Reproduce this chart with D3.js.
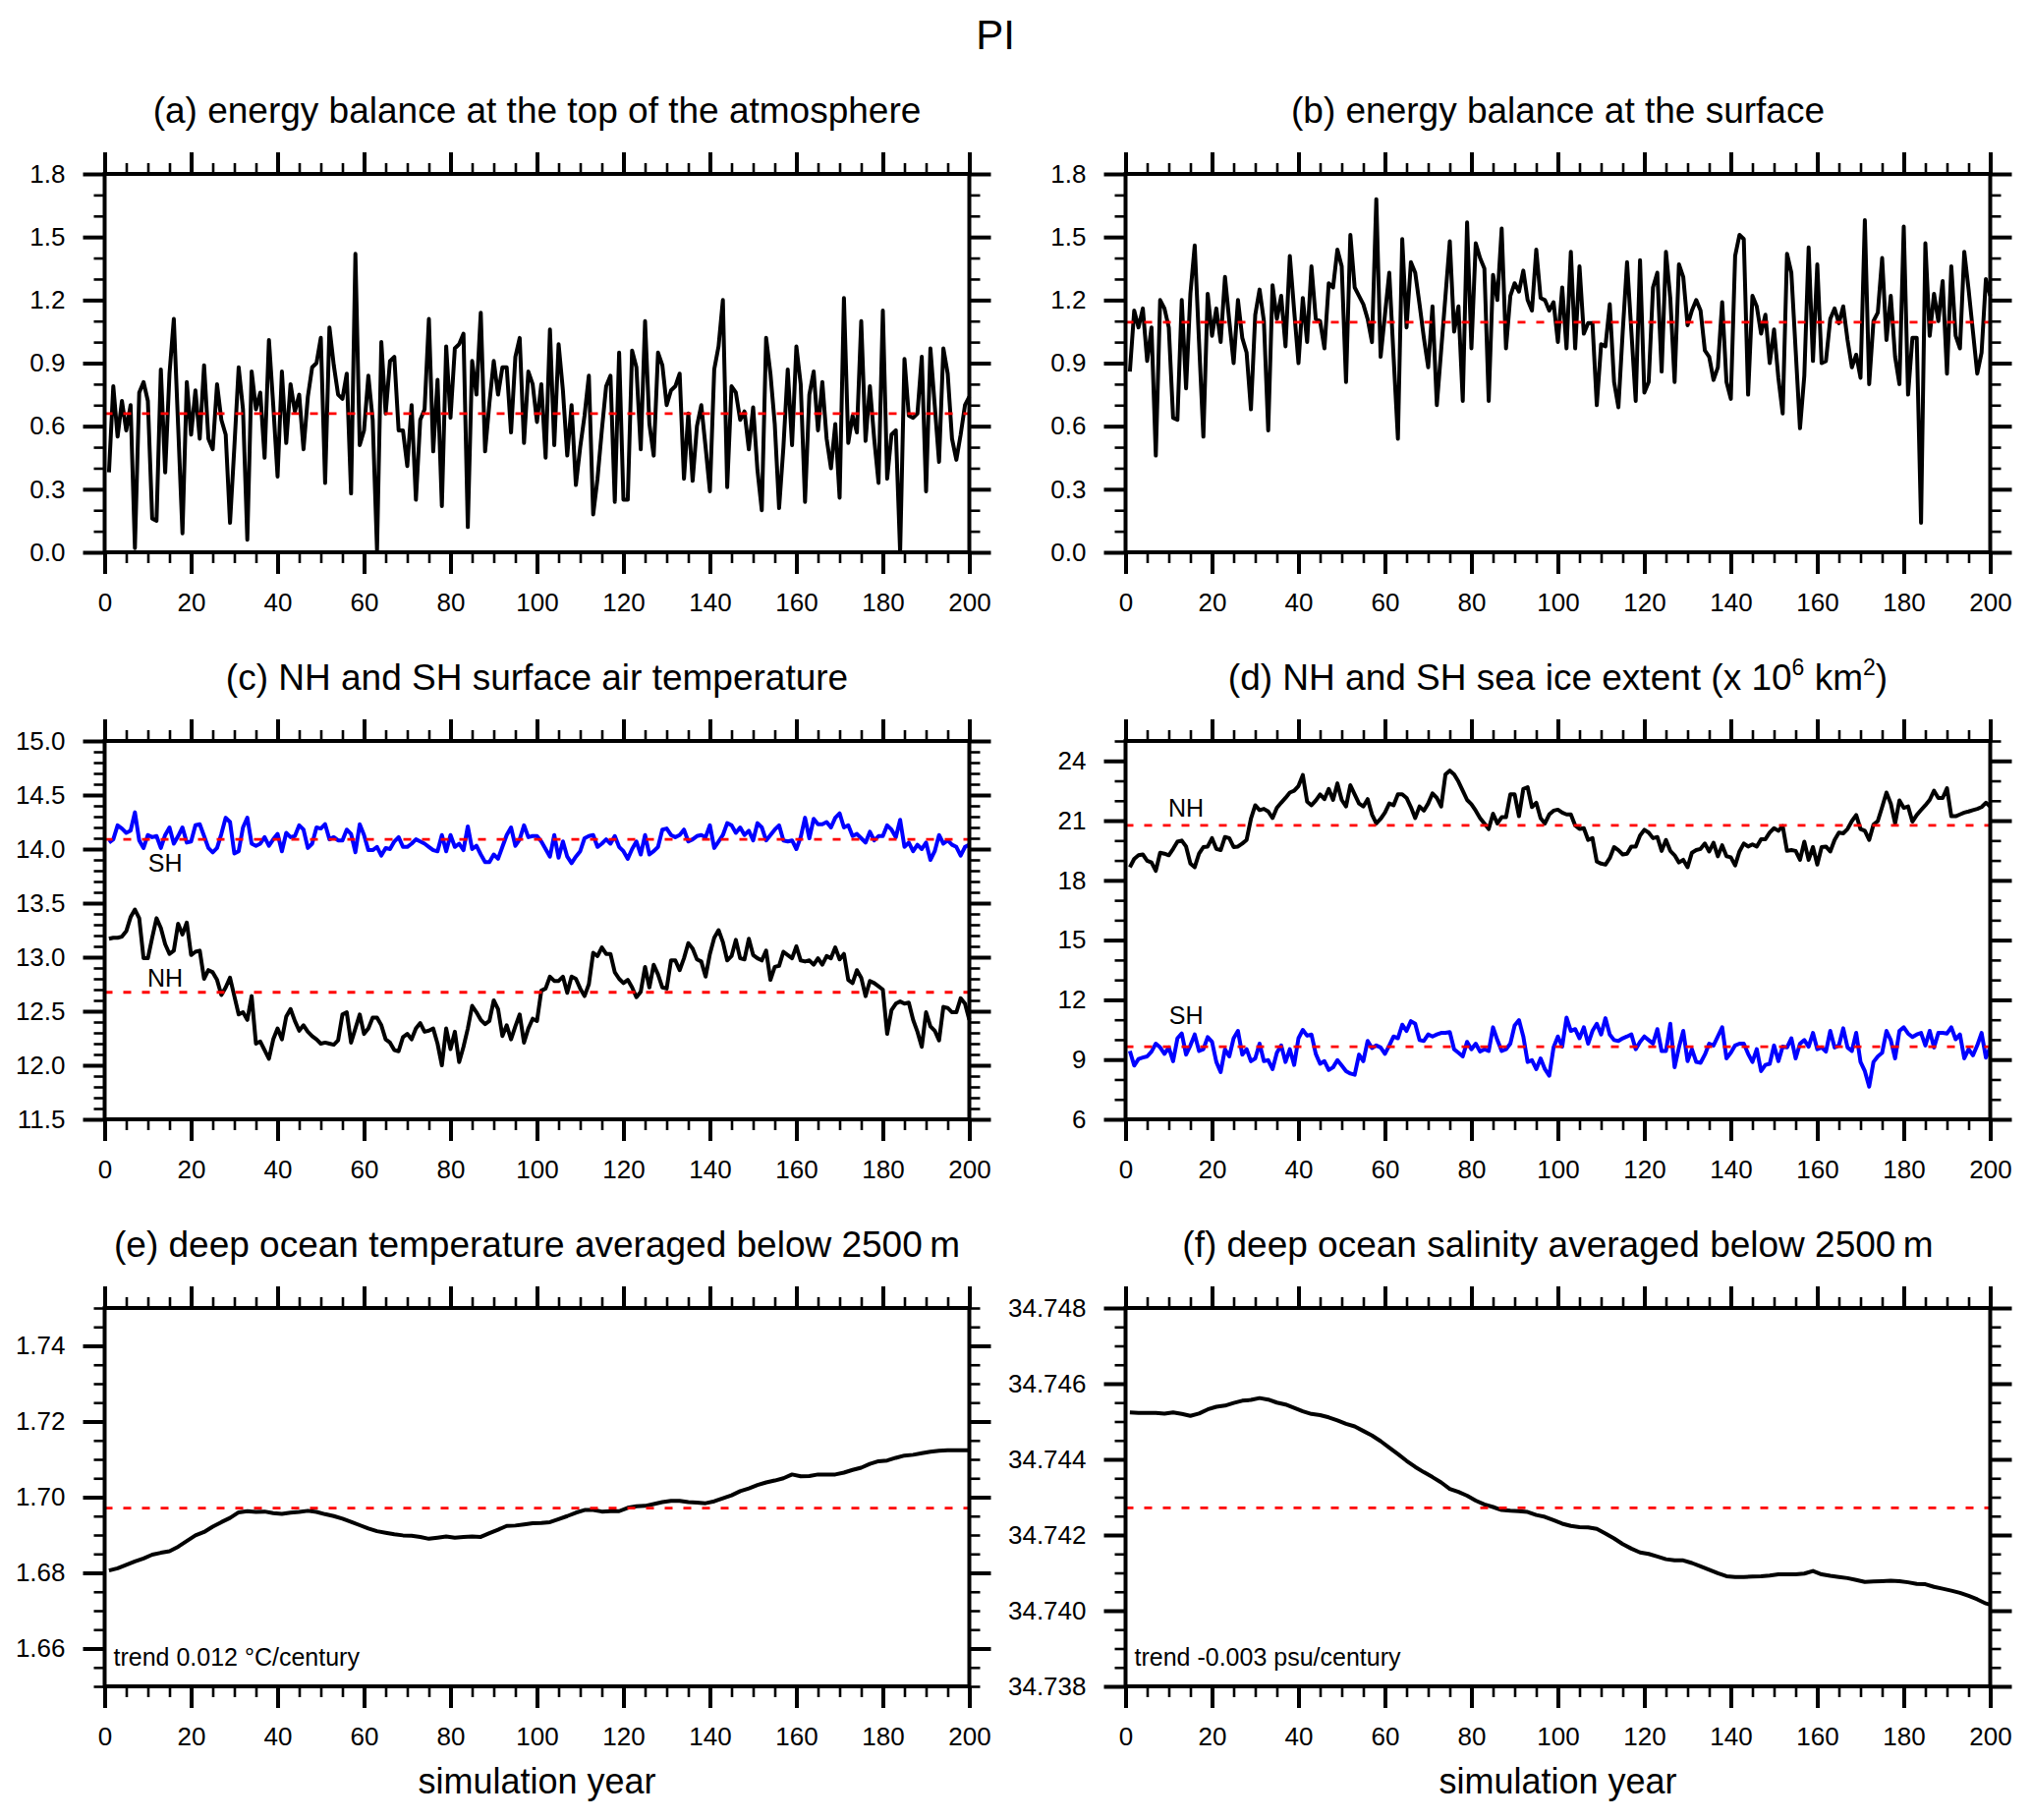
<!DOCTYPE html>
<html>
<head>
<meta charset="utf-8">
<script src="https://cdn.jsdelivr.net/npm/d3@7"></script>
<style>
  body { margin: 0; background: #fff; }
  text { font-family: "Liberation Sans", Arial, Helvetica, sans-serif; }
</style>
</head>
<body>
<div id="container"></div>
<script>
// ---- data ----
const years = d3.range(1, 201);
const yearsSmooth = d3.range(1, 200, 2).concat([200]);

const toaBalance = [
  0.38, 0.79, 0.55, 0.72, 0.58, 0.70, 0.02, 0.76, 0.81, 0.72,
  0.16, 0.15, 0.87, 0.38, 0.85, 1.11, 0.60, 0.09, 0.81, 0.56,
  0.77, 0.54, 0.89, 0.54, 0.49, 0.80, 0.63, 0.56, 0.14, 0.50,
  0.88, 0.68, 0.06, 0.86, 0.68, 0.76, 0.45, 1.01, 0.70, 0.36,
  0.86, 0.52, 0.80, 0.67, 0.75, 0.49, 0.74, 0.88, 0.90, 1.02,
  0.33, 1.07, 0.89, 0.75, 0.73, 0.85, 0.28, 1.42, 0.51, 0.58,
  0.84, 0.63, 0.01, 1.00, 0.66, 0.91, 0.93, 0.58, 0.58, 0.41,
  0.70, 0.25, 0.63, 0.68, 1.11, 0.48, 0.82, 0.22, 0.98, 0.64,
  0.97, 0.99, 1.04, 0.12, 0.91, 0.75, 1.14, 0.48, 0.71, 0.91,
  0.75, 0.88, 0.88, 0.57, 0.93, 1.02, 0.52, 0.86, 0.80, 0.62,
  0.80, 0.45, 1.06, 0.51, 0.99, 0.77, 0.46, 0.70, 0.32, 0.50,
  0.65, 0.84, 0.18, 0.35, 0.58, 0.79, 0.84, 0.24, 0.95, 0.25,
  0.25, 0.96, 0.88, 0.49, 1.10, 0.61, 0.46, 0.95, 0.89, 0.70,
  0.77, 0.79, 0.85, 0.35, 0.66, 0.34, 0.60, 0.70, 0.50, 0.29,
  0.87, 0.98, 1.20, 0.31, 0.79, 0.76, 0.63, 0.67, 0.49, 0.69,
  0.39, 0.20, 1.02, 0.85, 0.61, 0.21, 0.50, 0.87, 0.51, 0.98,
  0.80, 0.24, 0.75, 0.86, 0.58, 0.81, 0.54, 0.40, 0.61, 0.26,
  1.21, 0.52, 0.65, 0.57, 1.10, 0.53, 0.79, 0.54, 0.33, 1.15,
  0.35, 0.56, 0.58, 0.00, 0.92, 0.65, 0.64, 0.66, 0.93, 0.29,
  0.97, 0.70, 0.43, 0.97, 0.85, 0.54, 0.44, 0.56, 0.70, 0.74
];

const surfBalance = [
  0.86, 1.15, 1.07, 1.16, 0.91, 1.07, 0.46, 1.20, 1.16, 1.07,
  0.64, 0.63, 1.20, 0.78, 1.23, 1.46, 1.00, 0.55, 1.23, 1.03,
  1.16, 1.00, 1.31, 1.10, 0.90, 1.20, 1.02, 0.95, 0.68, 1.13,
  1.25, 1.10, 0.58, 1.27, 1.11, 1.22, 0.98, 1.41, 1.15, 0.90,
  1.21, 1.00, 1.36, 1.11, 1.10, 0.97, 1.28, 1.26, 1.44, 1.36,
  0.81, 1.51, 1.26, 1.22, 1.18, 1.11, 1.00, 1.68, 0.93, 1.13,
  1.33, 0.93, 0.54, 1.49, 1.07, 1.38, 1.33, 1.18, 1.02, 0.88,
  1.17, 0.70, 0.96, 1.22, 1.48, 1.05, 1.17, 0.72, 1.57, 0.97,
  1.47, 1.40, 1.35, 0.72, 1.32, 1.20, 1.54, 0.97, 1.22, 1.28,
  1.24, 1.34, 1.20, 1.15, 1.44, 1.21, 1.20, 1.15, 1.19, 1.00,
  1.26, 0.97, 1.43, 0.97, 1.36, 1.04, 1.09, 1.09, 0.70, 0.99,
  0.98, 1.18, 0.81, 0.69, 1.05, 1.38, 1.05, 0.72, 1.39, 0.76,
  0.81, 1.26, 1.33, 0.86, 1.43, 1.21, 0.81, 1.37, 1.31, 1.08,
  1.15, 1.20, 1.15, 0.96, 0.93, 0.82, 0.88, 1.19, 0.81, 0.73,
  1.41, 1.51, 1.49, 0.75, 1.22, 1.17, 1.04, 1.13, 0.90, 1.06,
  0.83, 0.66, 1.42, 1.33, 0.96, 0.59, 0.84, 1.45, 0.91, 1.37,
  0.90, 0.91, 1.11, 1.16, 1.09, 1.17, 1.01, 0.88, 0.94, 0.83,
  1.58, 0.80, 1.10, 1.14, 1.40, 1.01, 1.22, 0.93, 0.80, 1.55,
  0.75, 1.02, 1.02, 0.14, 1.47, 1.03, 1.23, 1.10, 1.29, 0.85,
  1.36, 1.03, 0.97, 1.43, 1.25, 1.05, 0.85, 0.95, 1.30, 1.22
];

const satSH = [
  14.06, 14.09, 14.22, 14.19, 14.15, 14.17, 14.34, 14.08, 14.01, 14.13,
  14.11, 14.12, 14.01, 14.13, 14.20, 14.05, 14.12, 14.20, 14.06, 14.07,
  14.22, 14.23, 14.12, 14.01, 13.97, 14.01, 14.14, 14.29, 14.25, 13.96,
  13.98, 14.20, 14.29, 14.05, 14.03, 14.05, 14.11, 14.03, 14.09, 14.14,
  13.98, 14.15, 14.11, 14.12, 14.22, 14.18, 14.01, 14.05, 14.20, 14.19,
  14.23, 14.09, 14.11, 14.08, 14.08, 14.18, 14.14, 13.97, 14.23, 14.13,
  13.99, 13.99, 14.02, 13.94, 14.01, 14.00, 14.07, 14.11, 14.02, 14.02,
  14.05, 14.09, 14.07, 14.05, 14.02, 13.99, 13.98, 14.13, 13.98, 14.13,
  14.02, 14.05, 13.99, 14.21, 14.00, 14.03, 13.95, 13.88, 13.88, 13.95,
  13.91, 14.02, 14.13, 14.20, 14.03, 14.09, 14.22, 14.11, 14.12, 14.12,
  14.07, 14.00, 13.93, 14.13, 13.92, 14.07, 13.93, 13.87, 13.93, 13.98,
  14.10, 14.12, 14.13, 14.02, 14.05, 14.09, 14.05, 14.12, 14.02, 13.98,
  13.91, 14.00, 14.07, 13.95, 14.13, 13.95, 13.98, 14.02, 14.18, 14.19,
  14.13, 14.11, 14.13, 14.18, 14.07, 14.09, 14.12, 14.13, 14.11, 14.22,
  14.01, 14.07, 14.13, 14.24, 14.22, 14.15, 14.20, 14.13, 14.17, 14.08,
  14.24, 14.20, 14.08, 14.13, 14.18, 14.22, 14.08, 14.07, 14.08, 14.00,
  14.11, 14.29, 14.10, 14.28, 14.23, 14.23, 14.25, 14.20, 14.29, 14.33,
  14.20, 14.22, 14.12, 14.14, 14.10, 14.06, 14.16, 14.08, 14.12, 14.12,
  14.22, 14.18, 14.11, 14.27, 14.02, 14.06, 13.98, 14.04, 14.00, 14.06,
  13.90, 13.98, 14.13, 14.05, 14.08, 14.04, 14.02, 13.94, 14.02, 14.04
];

const satNH = [
  13.17, 13.18, 13.18, 13.19, 13.24, 13.37, 13.44, 13.36, 12.99, 12.99,
  13.18, 13.36, 13.27, 13.12, 13.03, 13.06, 13.31, 13.21, 13.32, 13.02,
  13.05, 13.06, 12.80, 12.88, 12.86, 12.79, 12.65, 12.72, 12.81, 12.64,
  12.47, 12.49, 12.42, 12.64, 12.20, 12.22, 12.14, 12.06, 12.24, 12.34,
  12.24, 12.45, 12.52, 12.41, 12.32, 12.37, 12.31, 12.27, 12.24, 12.20,
  12.21, 12.20, 12.19, 12.23, 12.47, 12.49, 12.21, 12.34, 12.47, 12.29,
  12.34, 12.44, 12.44, 12.37, 12.24, 12.21, 12.14, 12.13, 12.26, 12.29,
  12.24, 12.34, 12.39, 12.31, 12.32, 12.34, 12.20, 12.00, 12.34, 12.15,
  12.31, 12.03, 12.17, 12.34, 12.55, 12.49, 12.42, 12.38, 12.41, 12.60,
  12.52, 12.27, 12.37, 12.24, 12.36, 12.47, 12.21, 12.34, 12.43, 12.41,
  12.69, 12.71, 12.82, 12.78, 12.78, 12.82, 12.67, 12.82, 12.80, 12.71,
  12.64, 12.75, 13.04, 13.01, 13.09, 13.03, 13.03, 12.86, 12.80, 12.76,
  12.79, 12.72, 12.63, 12.68, 12.91, 12.72, 12.93, 12.84, 12.72, 12.71,
  12.97, 12.97, 12.88, 12.99, 13.13, 13.08, 12.98, 12.96, 12.82, 13.03,
  13.18, 13.25, 13.14, 12.97, 13.01, 13.16, 12.99, 12.98, 13.17, 13.02,
  12.99, 12.97, 13.06, 12.79, 12.91, 12.92, 13.05, 13.02, 12.99, 13.10,
  12.97, 12.96, 12.97, 12.93, 12.99, 12.93, 13.01, 12.99, 13.09, 12.98,
  13.03, 12.79, 12.76, 12.88, 12.81, 12.64, 12.78, 12.76, 12.73, 12.70,
  12.29, 12.51, 12.57, 12.59, 12.57, 12.58, 12.42, 12.31, 12.17, 12.49,
  12.36, 12.32, 12.23, 12.54, 12.53, 12.49, 12.49, 12.62, 12.57, 12.42
];

const iceNH = [
  18.66, 19.08, 19.26, 19.30, 18.99, 18.90, 18.48, 19.39, 19.34, 19.26,
  19.58, 19.94, 20.00, 19.70, 18.84, 18.66, 19.34, 19.67, 19.70, 20.12,
  19.58, 19.52, 20.18, 20.12, 19.67, 19.70, 19.85, 20.03, 21.09, 21.77,
  21.53, 21.59, 21.46, 21.13, 21.64, 21.90, 22.14, 22.41, 22.50, 22.74,
  23.29, 21.95, 21.77, 22.01, 22.32, 22.08, 22.59, 22.04, 22.87, 22.04,
  21.71, 22.78, 22.32, 21.86, 21.71, 22.08, 21.31, 20.86, 21.09, 21.40,
  21.86, 21.77, 22.32, 22.32, 22.14, 21.68, 21.13, 21.71, 21.50, 21.86,
  22.37, 22.14, 21.71, 23.32, 23.51, 23.32, 22.96, 22.50, 22.04, 21.82,
  21.50, 21.13, 20.86, 20.58, 21.35, 20.86, 21.17, 21.17, 22.32, 22.32,
  21.22, 22.59, 22.68, 21.68, 21.90, 21.13, 20.86, 21.31, 21.50, 21.55,
  21.40, 21.31, 21.31, 20.76, 20.58, 20.62, 20.03, 20.12, 18.94, 18.84,
  18.79, 19.12, 19.67, 19.52, 19.30, 19.34, 19.70, 19.70, 20.25, 20.54,
  20.40, 20.12, 20.18, 19.48, 20.03, 19.48, 19.26, 18.90, 19.03, 18.66,
  19.39, 19.52, 19.58, 19.85, 19.45, 19.89, 19.21, 19.76, 19.21, 19.16,
  18.75, 19.45, 19.85, 19.70, 19.81, 19.70, 20.07, 20.07, 20.40, 20.62,
  20.49, 20.73, 19.48, 19.52, 19.48, 19.03, 19.94, 19.03, 19.67, 18.79,
  19.67, 19.70, 19.45, 20.03, 20.40, 20.36, 20.58, 20.98, 21.28, 20.58,
  20.49, 20.03, 20.80, 20.98, 21.68, 22.41, 21.86, 20.86, 22.01, 21.64,
  21.71, 20.95, 21.28, 21.53, 21.77, 22.04, 22.50, 22.14, 22.14, 22.63,
  21.22, 21.22, 21.31, 21.40, 21.46, 21.53, 21.59, 21.68, 21.90, 21.71
];

const iceSH = [
  9.43, 8.70, 9.03, 9.10, 9.16, 9.40, 9.80, 9.61, 9.29, 9.61,
  8.92, 10.07, 10.31, 9.25, 9.71, 10.26, 9.43, 9.52, 10.13, 9.89,
  8.88, 8.37, 9.52, 9.16, 10.07, 10.44, 9.25, 9.52, 8.92, 9.06,
  9.80, 8.92, 8.97, 8.52, 9.34, 9.71, 8.88, 9.52, 8.73, 10.07,
  10.49, 10.20, 10.26, 9.29, 8.79, 8.92, 8.48, 8.61, 8.97, 8.70,
  8.42, 8.30, 8.24, 9.25, 8.92, 9.94, 9.58, 9.71, 9.61, 9.29,
  9.71, 10.16, 10.07, 10.75, 10.44, 10.93, 10.80, 9.98, 9.94, 10.26,
  10.16, 10.26, 10.34, 10.34, 10.38, 9.52, 9.34, 9.16, 9.89, 9.52,
  9.80, 9.40, 9.52, 9.43, 10.62, 9.98, 9.43, 9.52, 9.80, 10.71,
  10.98, 10.16, 8.88, 8.97, 8.52, 9.06, 8.52, 8.19, 9.61, 10.16,
  9.65, 11.11, 10.44, 10.53, 10.07, 10.62, 9.80, 10.44, 10.80, 10.26,
  11.08, 10.26, 9.98, 9.94, 10.07, 10.16, 10.26, 9.52, 9.89, 10.16,
  9.98, 9.80, 10.53, 9.43, 9.43, 10.80, 8.61, 9.61, 10.44, 8.92,
  9.52, 8.88, 8.84, 9.25, 9.80, 9.71, 10.16, 10.62, 9.06, 9.34,
  9.71, 9.80, 9.80, 9.29, 8.88, 9.52, 8.42, 8.73, 8.79, 9.71,
  8.92, 9.65, 9.61, 10.07, 9.06, 9.80, 9.98, 9.65, 10.34, 9.52,
  9.61, 9.40, 10.44, 9.61, 9.71, 10.57, 9.61, 9.43, 10.34, 8.88,
  8.42, 7.64, 8.88, 9.16, 9.34, 10.44, 9.98, 9.06, 10.44, 10.62,
  10.31, 10.13, 10.26, 10.34, 9.71, 10.44, 9.61, 10.34, 10.34, 10.31,
  10.62, 10.02, 10.26, 9.06, 9.52, 9.21, 9.71, 10.34, 9.10, 9.61
];

const deepTemp = [
  1.6806, 1.6812, 1.6821, 1.6830, 1.6838, 1.6848, 1.6853, 1.6857, 1.6869, 1.6884,
  1.6899, 1.6908, 1.6922, 1.6934, 1.6945, 1.6960, 1.6963, 1.6961, 1.6962, 1.6958,
  1.6956, 1.6959, 1.6961, 1.6964, 1.6961, 1.6955, 1.6950, 1.6943, 1.6935, 1.6926,
  1.6917, 1.6910, 1.6906, 1.6902, 1.6899, 1.6898, 1.6895, 1.6890, 1.6893, 1.6896,
  1.6893, 1.6895, 1.6896, 1.6895, 1.6905, 1.6914, 1.6924, 1.6925, 1.6928, 1.6931,
  1.6932, 1.6934, 1.6942, 1.6950, 1.6959, 1.6966, 1.6966, 1.6962, 1.6963, 1.6963,
  1.6972, 1.6976, 1.6977, 1.6982, 1.6987, 1.6990, 1.6990, 1.6987, 1.6986, 1.6984,
  1.6989, 1.6997, 1.7005, 1.7016, 1.7023, 1.7032, 1.7039, 1.7044, 1.7050, 1.7060,
  1.7055, 1.7056, 1.7060, 1.7060, 1.7060, 1.7065, 1.7072, 1.7078, 1.7088, 1.7095,
  1.7097, 1.7104, 1.7110, 1.7112, 1.7116, 1.7120, 1.7123, 1.7124, 1.7124, 1.7124,
  1.7124
];

const deepSalt = [
  34.74524, 34.74523, 34.74523, 34.74523, 34.74521, 34.74524, 34.74520, 34.74515, 34.74521, 34.74532,
  34.74539, 34.74542, 34.74549, 34.74555, 34.74557, 34.74562, 34.74558, 34.74550, 34.74545, 34.74536,
  34.74527, 34.74520, 34.74517, 34.74511, 34.74503, 34.74494, 34.74487, 34.74475, 34.74463, 34.74448,
  34.74431, 34.74414, 34.74396, 34.74380, 34.74366, 34.74353, 34.74339, 34.74322, 34.74314, 34.74304,
  34.74291, 34.74281, 34.74274, 34.74266, 34.74264, 34.74263, 34.74261, 34.74253, 34.74248, 34.74239,
  34.74230, 34.74224, 34.74221, 34.74220, 34.74216, 34.74204, 34.74191, 34.74176, 34.74164, 34.74154,
  34.74150, 34.74143, 34.74136, 34.74133, 34.74133, 34.74126, 34.74117, 34.74108, 34.74099, 34.74091,
  34.74089, 34.74089, 34.74090, 34.74091, 34.74093, 34.74096, 34.74096, 34.74096, 34.74098, 34.74105,
  34.74096, 34.74092, 34.74089, 34.74086, 34.74081, 34.74076, 34.74077, 34.74078, 34.74079, 34.74078,
  34.74075, 34.74071, 34.74070, 34.74063, 34.74058, 34.74053, 34.74047, 34.74039, 34.74030, 34.74019,
  34.74016
];

// time means (red dashed lines)
const means = { a: [0.66], b: [1.095], c: [14.09, 12.675], d: [20.76, 9.65], e: [1.6971], f: [34.74272] };

// tick labels
const xMajor = d3.range(0, 201, 20);
const xMinor = d3.range(0, 201, 5);

// ---- layout ----
const width = 2067, height = 1852;
const colX = [106.5, 1145.5], rowY = [177, 754, 1331];
const plotW = 880, plotH = 385;
const majorLen = 22, minorLen = 11;
const tickFont = 26;

const panels = [
  { col: 0, row: 0, title: [{ t: "(a) energy balance at the top of the atmosphere" }],
    y: [0, 1.8], yMajor: d3.range(7).map(i => i * 0.3), yMinor: d3.range(19).map(i => i * 0.1), fmt: d3.format(".1f"),
    series: [{ x: years, v: toaBalance, color: "#000" }], means: means.a },
  { col: 1, row: 0, title: [{ t: "(b) energy balance at the surface" }],
    y: [0, 1.8], yMajor: d3.range(7).map(i => i * 0.3), yMinor: d3.range(19).map(i => i * 0.1), fmt: d3.format(".1f"),
    series: [{ x: years, v: surfBalance, color: "#000" }], means: means.b },
  { col: 0, row: 1, title: [{ t: "(c) NH and SH surface air temperature" }],
    y: [11.5, 15], yMajor: d3.range(8).map(i => 11.5 + i * 0.5), yMinor: d3.range(36).map(i => 11.5 + i * 0.1), fmt: d3.format(".1f"),
    series: [{ x: years, v: satSH, color: "#0000ff" }, { x: years, v: satNH, color: "#000" }], means: means.c,
    labels: [{ t: "SH", yr: 14, v: 13.87 }, { t: "NH", yr: 14, v: 12.81 }] },
  { col: 1, row: 1, title: [{ t: "(d) NH and SH sea ice extent (x 10" }, { t: "6", sup: true }, { t: " km" }, { t: "2", sup: true }, { t: ")" }],
    y: [6, 25], yMajor: d3.range(7).map(i => 6 + i * 3), yMinor: d3.range(20).map(i => 6 + i), fmt: d3.format("d"),
    series: [{ x: years, v: iceNH, color: "#000" }, { x: years, v: iceSH, color: "#0000ff" }], means: means.d,
    labels: [{ t: "NH", yr: 14, v: 21.64 }, { t: "SH", yr: 14, v: 11.23 }] },
  { col: 0, row: 2, title: [{ t: "(e) deep ocean temperature averaged below 2500\u2009m" }],
    y: [1.65, 1.75], yMajor: d3.range(5).map(i => 1.66 + i * 0.02), yMinor: d3.range(21).map(i => 1.65 + i * 0.005), fmt: d3.format(".2f"),
    series: [{ x: yearsSmooth, v: deepTemp, color: "#000" }], means: means.e,
    trend: ["trend 0.012 ", "\u00b0C/century"] },
  { col: 1, row: 2, title: [{ t: "(f) deep ocean salinity averaged below 2500\u2009m" }],
    y: [34.738, 34.748], yMajor: d3.range(6).map(i => 34.738 + i * 0.002), yMinor: d3.range(21).map(i => 34.738 + i * 0.0005), fmt: d3.format(".3f"),
    series: [{ x: yearsSmooth, v: deepSalt, color: "#000" }], means: means.f,
    trend: ["trend -0.003 psu/century"] }
];

const svg = d3.select("#container").append("svg")
  .attr("width", width).attr("height", height)
  .style("background", "#fff");

svg.append("text").attr("x", 1013).attr("y", 50)
  .attr("text-anchor", "middle").attr("font-size", 42).text("PI");

panels.forEach(p => {
  const left = colX[p.col], top = rowY[p.row];
  const g = svg.append("g").attr("transform", `translate(${left},${top})`);

  const x = d3.scaleLinear().domain([0, 200]).range([0, plotW]);
  const y = d3.scaleLinear().domain(p.y).range([plotH, 0]);

  // title
  const title = g.append("text").attr("x", plotW / 2).attr("y", -52.5)
    .attr("text-anchor", "middle").attr("font-size", 37);
  let raised = false;
  p.title.forEach(part => {
    const ts = title.append("tspan").text(part.t);
    if (part.sup) { ts.attr("font-size", 23).attr("dy", -15); raised = true; }
    else if (raised) { ts.attr("dy", 15); raised = false; }
  });

  const lineGen = d3.line().x(d => x(d[0])).y(d => y(d[1]));

  p.series.forEach(s => {
    g.append("path")
      .datum(s.x.map((yr, i) => [yr, s.v[i]]))
      .attr("d", lineGen)
      .attr("fill", "none").attr("stroke", s.color)
      .attr("stroke-width", 4).attr("stroke-linejoin", "round");
  });

  // mean lines
  p.means.forEach(m => {
    g.append("line")
      .attr("x1", 0).attr("x2", plotW).attr("y1", y(m)).attr("y2", y(m))
      .attr("stroke", "red").attr("stroke-width", 2.8).attr("stroke-dasharray", "8,11");
  });

  // NH / SH labels
  (p.labels || []).forEach(l => {
    g.append("text").attr("x", x(l.yr)).attr("y", y(l.v))
      .attr("text-anchor", "middle").attr("dominant-baseline", "central")
      .attr("font-size", 25).text(l.t);
  });

  if (p.trend) {
    const t = g.append("text").attr("x", 9).attr("y", plotH - 21).attr("font-size", 25);
    p.trend.forEach(s => t.append("tspan").text(s));
  }

  // axes: ticks outward on all four sides
  const axes = [
    d3.axisBottom(x).tickValues(xMinor).tickSize(minorLen).tickFormat(""),
    d3.axisBottom(x).tickValues(xMajor).tickSize(majorLen).tickPadding(20).tickFormat(d3.format("d")),
    d3.axisTop(x).tickValues(xMinor).tickSize(minorLen).tickFormat(""),
    d3.axisTop(x).tickValues(xMajor).tickSize(majorLen).tickFormat(""),
    d3.axisLeft(y).tickValues(p.yMinor).tickSize(minorLen).tickFormat(""),
    d3.axisLeft(y).tickValues(p.yMajor).tickSize(majorLen).tickPadding(18).tickFormat(p.fmt),
    d3.axisRight(y).tickValues(p.yMinor).tickSize(minorLen).tickFormat(""),
    d3.axisRight(y).tickValues(p.yMajor).tickSize(majorLen).tickFormat("")
  ];
  const shifts = ["0," + plotH, "0," + plotH, "0,0", "0,0", "0,0", "0,0", plotW + ",0", plotW + ",0"];
  axes.forEach((ax, i) => {
    const a = g.append("g").attr("transform", `translate(${shifts[i]})`).call(ax);
    a.select(".domain").remove();
    const isMajor = i % 2 === 1;
    a.selectAll(".tick line").attr("stroke", "#000")
      .attr("stroke-width", isMajor ? 4 : 2.6);
    a.selectAll(".tick text").attr("fill", "#000")
      .attr("font-size", tickFont).attr("font-family", "Liberation Sans, Arial, sans-serif");
  });

  // frame
  g.append("rect").attr("width", plotW).attr("height", plotH)
    .attr("fill", "none").attr("stroke", "#000").attr("stroke-width", 4);

  if (p.row === 2) {
    g.append("text").attr("x", plotW / 2).attr("y", plotH + 109)
      .attr("text-anchor", "middle").attr("font-size", 36).text("simulation year");
  }
});
</script>
</body>
</html>
